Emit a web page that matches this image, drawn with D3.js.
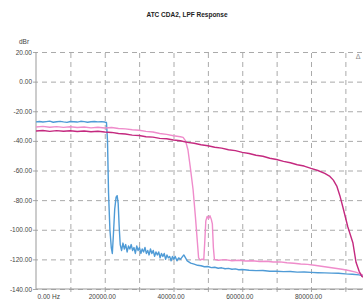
<!DOCTYPE html>
<html>
<head lang="en">
  <meta charset="UTF-8">
  <title>ATC CDA2, LPF Response</title>
</head>
<style>
  body { margin: 0; background: #fff; }
  #chart text { font-family: "Liberation Sans", Arial, sans-serif; fill: #444; }
  #chart .grid line { stroke: #aaa; stroke-dasharray: 5,4; stroke-width: 1; }
  #chart .trace { fill: none; stroke-width: 1.4; stroke-linejoin: round; }
</style>
<body>

<svg id="chart" width="363" height="300"></svg>

<script src="https://cdn.jsdelivr.net/npm/d3@7"></script>
<script>
  var title = 'ATC CDA2, LPF Response';
  var yTicks = [20, 0, -20, -40, -60, -80, -100, -120, -140];
  var xGridTicks = [10000, 20000, 30000, 40000, 50000, 60000, 70000, 80000, 90000];
  var xLabelTicks = [0, 20000, 40000, 60000, 80000];
  var xLabels = ['0.00 Hz', '20000.00', '40000.00', '60000.00', '80000.00'];

  // blue trace (20k cutoff)
  var blueHz = [0, 1000, 2000, 3000, 4000, 5000, 6000, 7000, 8000, 9000, 10000, 11000, 12000, 13000, 14000,
    15000, 16000, 17000, 18000, 19000, 20000, 20500, 20800, 21100, 21500, 21900, 22200, 22500, 22900, 23300,
    23600, 23900, 24200, 24500, 24900, 25300, 25700, 26100, 26500, 26900, 27300, 27700, 28100, 28500, 28900,
    29300, 29700, 30100, 30500, 30900, 31300, 31700, 32100, 32500, 32900, 33300, 33700, 34100, 34500, 34900,
    35300, 35700, 36100, 36500, 36900, 37300, 37700, 38100, 38500, 38900, 39300, 39700, 40100, 40500, 41000,
    41500, 42000, 42500, 43000, 43500, 44000, 45000, 46000, 47000, 48000, 49000, 50000, 51000, 52000, 53000,
    54000, 55000, 56000, 57000, 58000, 59000, 60000, 62000, 64000, 66000, 68000, 70000, 72000, 74000, 76000,
    78000, 80000, 82000, 84000, 86000, 88000, 90000, 92000, 94000, 96000];
  var blueDb = [-27.2, -26.9, -27.3, -27.0, -26.7, -27.4, -27.1, -26.8, -27.2, -27.5, -26.9, -27.1, -27.3, -26.8, -27.0,
    -27.4, -27.1, -26.9, -27.2, -27.0, -27.3, -27.6, -40, -75, -100, -112, -116, -104, -86, -78,
    -77, -82, -98, -110, -114, -109, -113, -110, -115, -111, -113, -110, -114, -112, -116,
    -111, -114, -112, -116, -113, -115, -112, -116, -114, -117, -113, -116, -114, -118, -115,
    -117, -115, -119, -116, -118, -116, -120, -117, -119, -118, -121, -118, -120, -118, -121,
    -119, -120, -118.5, -117, -119, -121, -122.5, -123.2, -124, -124.3, -125, -124.8, -125.6, -125.3, -126,
    -125.7, -126.3, -126.1, -126.7, -126.4, -127, -126.8, -127.3, -127.6, -127.5, -128, -128, -128.3, -128.2, -128.6,
    -128.5, -128.8, -129, -129.1, -129.3, -129.4, -129.8, -130, -130.5, -131.5];

  // light pink trace (~45k cutoff)
  var pinkHz = [0, 2000, 4000, 6000, 8000, 10000, 12000, 14000, 16000, 18000, 20000, 22000, 24000, 26000, 28000,
    30000, 32000, 34000, 36000, 38000, 40000, 42000, 42800, 43500, 44200, 44900, 45700, 46400, 47000, 47300,
    47800, 48300, 48800, 49100, 49400, 49800, 50200, 50600, 51000, 51300, 51600, 51900, 53000, 55000, 57000,
    59000, 61000, 63000, 65000, 67000, 69000, 71000, 73000, 75000, 77000, 79000, 81000, 83000, 85000, 87000,
    89000, 91000, 93000, 95000, 96000];
  var pinkDb = [-30.6, -30.2, -30.8, -30.4, -30.9, -30.5, -31.0, -30.6, -31.2, -30.8, -31.3, -31.0, -31.6, -31.9, -32.5,
    -32.8, -33.6, -34.0, -35.0, -35.6, -36.5, -37.2, -37.6, -40, -46, -58, -73, -92, -110, -119,
    -120.5, -119.8, -120.3, -108, -94, -91, -92.5, -90.5, -93, -96, -112, -120, -120.6, -120.2, -120.9,
    -120.6, -121.1, -120.9, -121.4, -121.3, -121.8, -121.7, -122.3, -122.6, -123.1, -123.4, -124, -124.6, -125.3, -126,
    -126.7, -127.5, -128.6, -130.5, -131.5];

  // magenta trace (~90k cutoff)
  var magHz = [0, 2000, 4000, 6000, 8000, 10000, 12000, 14000, 16000, 18000, 20000, 22000, 24000, 26000, 28000,
    30000, 32000, 34000, 36000, 38000, 40000, 42000, 44000, 46000, 48000, 50000, 52000, 54000, 56000, 58000,
    60000, 62000, 64000, 66000, 68000, 70000, 72000, 74000, 76000, 78000, 80000, 82000, 84000, 85500, 86500,
    87500, 88400, 89300, 90700, 92200, 93100, 94000, 94800, 96000];
  var magDb = [-33.3, -33.0, -33.6, -33.1, -33.5, -33.2, -33.7, -33.3, -33.8, -33.5, -34.0, -34.3, -35.0, -35.4, -36.1,
    -36.4, -37.2, -37.5, -38.3, -38.6, -39.4, -39.9, -41.0, -41.6, -42.6, -43.3, -44.3, -44.9, -46.0, -46.6,
    -47.8, -48.5, -49.7, -50.4, -51.7, -52.6, -53.8, -54.8, -56.1, -57.0, -58.6, -60.0, -62.0, -64.0, -66.5,
    -70.5, -77, -85, -98, -109, -122, -128, -131.5, -133];

  var plotLeft = 36, plotRight = 366, plotTop = 52, plotBottom = 289;

  var x = d3.scaleLinear().domain([0, 96000]).range([plotLeft, plotRight]);
  var y = d3.scaleLinear().domain([-140, 20]).range([plotBottom, plotTop]);

  var svg = d3.select('#chart');

  svg.append('text')
    .attr('x', 187).attr('y', 17)
    .attr('text-anchor', 'middle')
    .style('font-size', '6.5px').style('font-weight', 'bold').style('fill', '#222')
    .text(title);

  svg.append('text')
    .attr('x', 24).attr('y', 44)
    .attr('text-anchor', 'middle')
    .style('font-size', '6.5px')
    .text('dBr');

  // horizontal grid + y labels
  var yAxis = svg.append('g')
    .attr('class', 'grid')
    .attr('transform', 'translate(' + plotLeft + ',0)')
    .call(d3.axisLeft(y).tickValues(yTicks).tickSizeInner(-(plotRight - plotLeft)).tickSizeOuter(0)
      .tickPadding(4).tickFormat(function(d) { return d.toFixed(2); }));
  yAxis.selectAll('.tick line').attr('x1', -3);
  yAxis.selectAll('.tick text').style('font-size', '6.5px').attr('x', -4);
  yAxis.select('.domain').remove();

  // vertical grid
  var xGrid = svg.append('g')
    .attr('class', 'grid')
    .attr('transform', 'translate(0,' + plotBottom + ')')
    .call(d3.axisBottom(x).tickValues(xGridTicks).tickSizeInner(-(plotBottom - plotTop)).tickSizeOuter(0).tickFormat(''));
  xGrid.selectAll('.tick line').attr('y1', 3);
  xGrid.select('.domain').remove();

  // x labels
  var xAxis = svg.append('g')
    .attr('transform', 'translate(0,' + plotBottom + ')')
    .call(d3.axisBottom(x).tickValues(xLabelTicks).tickSize(0).tickPadding(5)
      .tickFormat(function(d, i) { return xLabels[i]; }));
  xAxis.select('.domain').remove();
  xAxis.selectAll('.tick text')
    .style('font-size', '6.5px')
    .attr('text-anchor', function(d, i) { return i === 0 ? 'start' : 'middle'; })
    .attr('x', function(d, i) { return i === 0 ? 1 : -3; });

  // solid axis lines
  svg.append('line')
    .attr('x1', plotLeft).attr('x2', plotLeft).attr('y1', plotTop).attr('y2', plotBottom)
    .style('stroke', '#999');
  svg.append('line')
    .attr('x1', plotLeft).attr('x2', plotRight).attr('y1', plotBottom).attr('y2', plotBottom)
    .style('stroke', '#999');

  svg.append('text')
    .attr('x', 358).attr('y', 59)
    .attr('text-anchor', 'middle')
    .style('font-size', '7px').style('fill', '#888')
    .text('\u0394');

  svg.append('clipPath').attr('id', 'plot')
    .append('rect')
    .attr('x', plotLeft).attr('y', plotTop)
    .attr('width', plotRight - plotLeft).attr('height', plotBottom - plotTop);

  var line = d3.line()
    .x(function(d) { return x(d[0]); })
    .y(function(d) { return y(d[1]); });

  function draw(hz, db, color) {
    svg.append('path')
      .datum(d3.zip(hz, db))
      .attr('class', 'trace')
      .attr('clip-path', 'url(#plot)')
      .style('stroke', color)
      .attr('d', line);
  }

  draw(blueHz, blueDb, '#4f9bd6');
  draw(pinkHz, pinkDb, '#ef8ccb');
  draw(magHz, magDb, '#c4297f');

</script>
</body>
</html>
